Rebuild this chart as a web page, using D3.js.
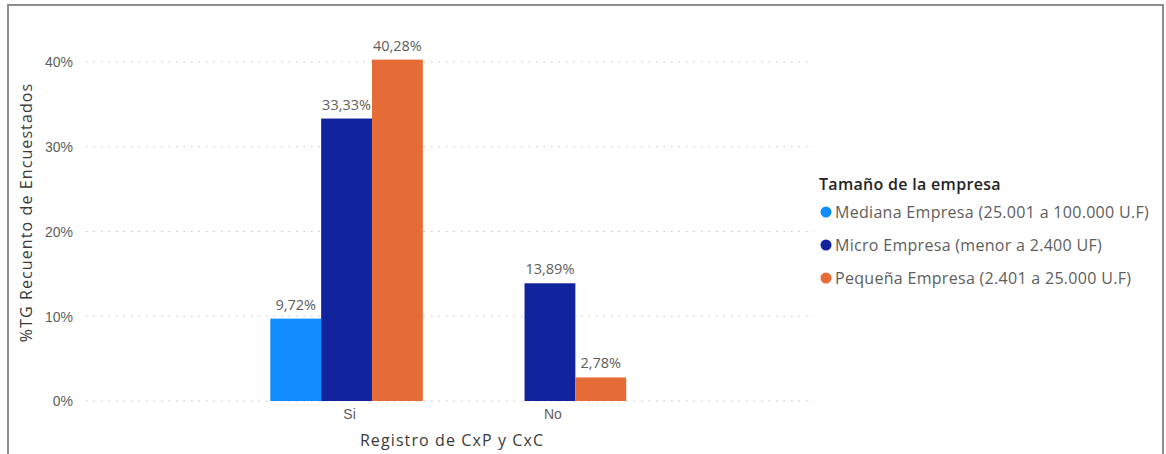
<!DOCTYPE html>
<html>
<head>
<meta charset="utf-8">
<script src="https://cdn.jsdelivr.net/npm/d3@7"></script>
<style>
  html, body { margin: 0; padding: 0; background: #fff; }
  svg { display: block; font-family: "Open Sans", "Noto Sans", sans-serif; }
</style>
</head>
<body>
<svg id="chart" width="1166" height="454"></svg>
<script>
const categories = ["Si", "No"];
const seriesNames = [
  "Mediana Empresa (25.001 a 100.000 U.F)",
  "Micro Empresa (menor a 2.400 UF)",
  "Pequeña Empresa (2.401 a 25.000 U.F)"
];
const seriesColors = ["#118DFF", "#12239E", "#E66C37"];
const medianaValues = [0.0972, null];
const microValues = [0.3333, 0.1389];
const pequenaValues = [0.4028, 0.0278];
const yTicks = [0, 0.1, 0.2, 0.3, 0.4];
const yAxisTitle = "%TG Recuento de Encuestados";
const xAxisTitle = "Registro de CxP y CxC";
const legendTitle = "Tamaño de la empresa";

const seriesValues = [medianaValues, microValues, pequenaValues];

const svg = d3.select("#chart");
const locale = d3.formatLocale({decimal: ",", thousands: ".", grouping: [3], currency: ["", ""]});
const fmtLabel = locale.format(".2%");
const fmtTick = locale.format(".0%");

// frame
svg.append("rect")
  .attr("x", 8).attr("y", 5).attr("width", 1155).attr("height", 470)
  .attr("fill", "none").attr("stroke", "#8f8f8f").attr("stroke-width", 2);

const y = d3.scaleLinear().domain([0, 0.4]).range([401, 62]);
const x0 = d3.scaleBand().domain(categories).range([84, 812.5]).paddingInner(0.25).paddingOuter(0.916);
const x1 = d3.scaleBand().domain(seriesNames).range([0, x0.bandwidth()]);

const gridX0 = 86, gridX1 = 814;

// gridlines
svg.append("g").selectAll("line").data(yTicks).join("line")
  .attr("x1", gridX0).attr("x2", gridX1)
  .attr("y1", d => y(d)).attr("y2", d => y(d))
  .attr("stroke", "#c8c6c4").attr("stroke-width", 1.2)
  .attr("stroke-dasharray", "1.5,6");

// y axis
const yAxis = d3.axisLeft(y).tickValues(yTicks).tickFormat(fmtTick).tickSize(0).tickPadding(0);
const gy = svg.append("g").attr("transform", "translate(73,0)").call(yAxis);
gy.select(".domain").remove();
gy.selectAll("text").attr("fill", "#605e5c").style("font-size", "14px").attr("dy", "0.35em");

// x axis
const xAxis = d3.axisBottom(x0).tickSize(0).tickPadding(0);
const gx = svg.append("g").attr("transform", "translate(3,409)").call(xAxis);
gx.select(".domain").remove();
gx.selectAll("text").attr("fill", "#605e5c").style("font-size", "14px").attr("dy", "0.71em");

// bars
const groups = svg.append("g").selectAll("g").data(categories).join("g")
  .attr("transform", d => `translate(${x0(d)},0)`);

groups.each(function(cat, ci) {
  const g = d3.select(this);
  const data = seriesNames.map((s, si) => ({s, si, v: seriesValues[si][ci]})).filter(d => d.v != null);
  g.selectAll("rect").data(data).join("rect")
    .attr("x", d => x1(d.s))
    .attr("width", x1.bandwidth())
    .attr("y", d => y(d.v))
    .attr("height", d => y(0) - y(d.v))
    .attr("fill", d => seriesColors[d.si]);
  g.selectAll("text").data(data).join("text")
    .attr("x", d => x1(d.s) + x1.bandwidth() / 2)
    .attr("y", d => y(d.v) - 9)
    .attr("text-anchor", "middle")
    .attr("fill", "#605e5c")
    .style("font-size", "14.5px")
    .text(d => fmtLabel(d.v));
});

// axis titles
svg.append("text")
  .attr("transform", `translate(32,${(83 + 342) / 2}) rotate(-90)`)
  .attr("text-anchor", "middle")
  .attr("fill", "#3b3a39")
  .style("font-size", "16px")
  .style("letter-spacing", "1.1px")
  .text(yAxisTitle);

svg.append("text")
  .attr("x", 452).attr("y", 446)
  .attr("text-anchor", "middle")
  .attr("fill", "#3b3a39")
  .style("font-size", "16px")
  .style("letter-spacing", "1.1px")
  .text(xAxisTitle);

// legend
const legend = svg.append("g");
legend.append("text")
  .attr("x", 819).attr("y", 190)
  .attr("fill", "#252423")
  .style("font-size", "16px").style("font-weight", 600)
  .style("letter-spacing", "0.3px")
  .text(legendTitle);

const items = legend.selectAll("g.item").data(seriesNames).join("g")
  .attr("class", "item")
  .attr("transform", (d, i) => `translate(0,${212 + i * 33})`);
items.append("circle").attr("cx", 826).attr("cy", 0).attr("r", 5.5)
  .attr("fill", (d, i) => seriesColors[i]);
items.append("text").attr("x", 835).attr("y", 0).attr("dy", "0.35em")
  .attr("fill", "#605e5c").style("font-size", "16px")
  .style("letter-spacing", "0.3px")
  .text(d => d);
</script>
</body>
</html>
